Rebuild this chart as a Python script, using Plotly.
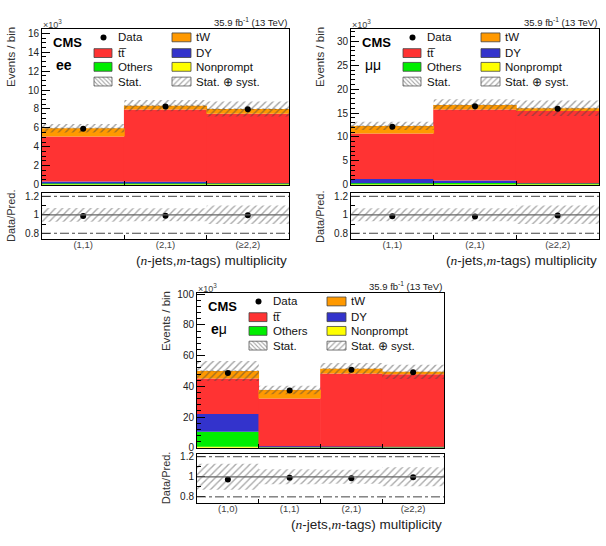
import plotly.graph_objects as go

W, H = 606, 546
FONT = "Liberation Sans, Arial, sans-serif"

# ---------------- data (thousands of events) ----------------
cats_3 = ["(1,1)", "(2,1)", "(\u22652,2)"]
cats_4 = ["(1,0)", "(1,1)", "(2,1)", "(\u22652,2)"]

ee_data      = [5.90, 8.27, 7.96]
ee_nonprompt = [0.03, 0.03, 0.03]
ee_others    = [0.10, 0.12, 0.10]
ee_dy        = [0.20, 0.15, 0.02]
ee_tt        = [4.77, 7.63, 7.35]
ee_tw        = [0.87, 0.42, 0.49]
ee_syst      = [0.075, 0.070, 0.100]
ee_stat      = [0.012, 0.010, 0.012]

mm_data      = [12.1, 16.4, 15.9]
mm_nonprompt = [0.05, 0.05, 0.03]
mm_others    = [0.25, 0.30, 0.20]
mm_dy        = [0.90, 0.50, 0.05]
mm_tt        = [9.50, 14.91, 15.12]
mm_tw        = [1.60, 0.94, 0.60]
mm_syst      = [0.070, 0.070, 0.100]
mm_stat      = [0.010, 0.008, 0.010]

em_data      = [48.7, 37.2, 50.8, 49.2]
em_nonprompt = [0.6, 0.2, 0.2, 0.2]
em_others    = [9.8, 0.4, 0.4, 0.3]
em_dy        = [11.6, 0.3, 0.2, 0.1]
em_tt        = [23.1, 31.1, 47.5, 47.3]
em_tw        = [4.9, 5.6, 3.2, 1.5]
em_syst      = [0.130, 0.075, 0.070, 0.095]
em_stat      = [0.008, 0.006, 0.005, 0.006]

proc_names  = ["Nonprompt", "Others", "DY", "tt\u0305", "tW"]
proc_colors = ["#ffff00", "#00ee00", "#3333cc", "#ff3333", "#ff9900"]

panels = [
    dict(cats=cats_3, data=ee_data, comps=[ee_nonprompt, ee_others, ee_dy, ee_tt, ee_tw],
         syst=ee_syst, stat=ee_stat, label="<b>ee</b>",
         L=42, R=289, T=25, B=184, RT=193, RB=239, ymax=16.5, dt=2, mdt=0.5),
    dict(cats=cats_3, data=mm_data, comps=[mm_nonprompt, mm_others, mm_dy, mm_tt, mm_tw],
         syst=mm_syst, stat=mm_stat, label="\u03bc\u03bc",
         L=351, R=599, T=25, B=184, RT=193, RB=239, ymax=32.7, dt=5, mdt=1),
    dict(cats=cats_4, data=em_data, comps=[em_nonprompt, em_others, em_dy, em_tt, em_tw],
         syst=em_syst, stat=em_stat, label="<b>e</b>\u03bc",
         L=197, R=444, T=294, B=452, RT=458, RB=508, ymax=101, dt=20, mdt=4),
]


def px2x(p):
    return p / W


def px2y(p):
    return 1 - p / H


fig = go.Figure()
layout = dict(
    width=W, height=H, margin=dict(l=0, r=0, t=0, b=0),
    paper_bgcolor="white", plot_bgcolor="rgba(0,0,0,0)",
    showlegend=False, barmode="overlay",
    font=dict(family=FONT, color="black"),
)
annotations = []
shapes = []

OV = 7  # overlay axis in pixel coordinates for legends
BW = 1.01


def axis_common():
    return dict(showline=True, linecolor="black", linewidth=1, mirror=True,
                showgrid=False, zeroline=False, fixedrange=True)


ratio_x_names = []
for i, p in enumerate(panels):
    n = len(p["cats"])
    centers = list(range(1, n + 1))
    edges = [c + 0.5 for c in centers[:-1]]
    ma, ra = 2 * i + 1, 2 * i + 2
    xm, ym = f"x{ma}", f"y{ma}"
    xr, yr = f"x{ra}", f"y{ra}"

    # axes
    xmain = axis_common()
    xmain.update(domain=[px2x(p["L"]), px2x(p["R"])], range=[0.5, n + 0.5], anchor=ym,
                 tickvals=centers, showticklabels=False, ticks="",
                 minor=dict(tickvals=edges, ticks="inside", ticklen=4, tickcolor="black"))
    ymain = axis_common()
    ymain.update(domain=[px2y(p["B"]), px2y(p["T"])], range=[0, p["ymax"]], anchor=xm,
                 dtick=p["dt"], tick0=0, ticks="inside", ticklen=8, tickcolor="black",
                 minor=dict(dtick=p["mdt"], tick0=0, ticks="inside", ticklen=4, tickcolor="black"),
                 tickfont=dict(size=10, color="#222"))
    xrat = axis_common()
    xrat.update(domain=[px2x(p["L"]), px2x(p["R"])], range=[0.5, n + 0.5], anchor=yr,
                tickvals=centers, ticktext=p["cats"], ticks="",
                tickfont=dict(size=9.5, color="#444"),
                minor=dict(tickvals=edges, ticks="inside", ticklen=4, tickcolor="black"))
    yrat = axis_common()
    yrat.update(domain=[px2y(p["RB"]), px2y(p["RT"])], range=[0.742, 1.231], anchor=xr,
                tickvals=[0.8, 1.0, 1.2], ticktext=["0.8", "1", "1.2"],
                ticks="inside", ticklen=8, tickcolor="black",
                minor=dict(dtick=0.1, tick0=0, ticks="inside", ticklen=4, tickcolor="black"),
                tickfont=dict(size=10, color="#222"))
    sfx = "" if ma == 1 else str(ma)
    layout[f"xaxis{sfx}"] = xmain
    layout[f"yaxis{sfx}"] = ymain
    layout[f"xaxis{ra}"] = xrat
    layout[f"yaxis{ra}"] = yrat
    ratio_x_names.append(f"xaxis{ra}")

    # stacked components
    base = [0.0] * n
    for vals, col, nm in zip(p["comps"], proc_colors, proc_names):
        fig.add_trace(go.Bar(x=centers, y=vals, base=list(base), width=BW, name=nm,
                             marker=dict(color=col, line=dict(width=0)),
                             xaxis=xm, yaxis=ym, hoverinfo="skip"))
        base = [b + v for b, v in zip(base, vals)]
    total = base

    # syst band
    fig.add_trace(go.Bar(x=centers, y=[2 * t * u for t, u in zip(total, p["syst"])],
                         base=[t * (1 - u) for t, u in zip(total, p["syst"])], width=1,
                         marker=dict(color="rgba(0,0,0,0)", line=dict(width=0),
                                     pattern=dict(shape="/", fgcolor="#444", bgcolor="rgba(0,0,0,0)",
                                                  size=5, solidity=0.28, fillmode="overlay")),
                         xaxis=xm, yaxis=ym, hoverinfo="skip"))
    # stat band
    fig.add_trace(go.Bar(x=centers, y=[2 * t * u for t, u in zip(total, p["stat"])],
                         base=[t * (1 - u) for t, u in zip(total, p["stat"])], width=1,
                         marker=dict(color="rgba(0,0,0,0)", line=dict(width=0),
                                     pattern=dict(shape="\\", fgcolor="#333", bgcolor="rgba(0,0,0,0)",
                                                  size=4, solidity=0.3, fillmode="overlay")),
                         xaxis=xm, yaxis=ym, hoverinfo="skip"))
    # data
    fig.add_trace(go.Scatter(x=centers, y=p["data"], mode="markers",
                             marker=dict(color="black", size=6),
                             xaxis=xm, yaxis=ym, hoverinfo="skip"))

    # ratio band
    fig.add_trace(go.Bar(x=centers, y=[2 * u for u in p["syst"]],
                         base=[1 - u for u in p["syst"]], width=1,
                         marker=dict(color="rgba(0,0,0,0)", line=dict(width=0),
                                     pattern=dict(shape="/", fgcolor="#555", bgcolor="rgba(0,0,0,0)",
                                                  size=5, solidity=0.28, fillmode="overlay")),
                         xaxis=xr, yaxis=yr, hoverinfo="skip"))
    fig.add_trace(go.Scatter(x=centers, y=[d / t for d, t in zip(p["data"], total)],
                             mode="markers", marker=dict(color="black", size=6),
                             xaxis=xr, yaxis=yr, hoverinfo="skip"))
    # ratio reference lines
    shapes.append(dict(type="line", xref=f"{xr} domain", yref=yr, x0=0, x1=1, y0=1, y1=1,
                       line=dict(color="#666", width=1.2), layer="above"))
    for yv in (0.8, 1.2):
        shapes.append(dict(type="line", xref=f"{xr} domain", yref=yr, x0=0, x1=1, y0=yv, y1=yv,
                           line=dict(color="#444", width=1, dash="dashdot"), layer="above"))

    L, R, T = p["L"], p["R"], p["T"]
    # texts
    annotations += [
        dict(x=px2x(L + 9), y=px2y(T + 14), xref="paper", yref="paper", text="<b>CMS</b>",
             showarrow=False, xanchor="left", yanchor="middle", font=dict(size=13)),
        dict(x=px2x(L + 12), y=px2y(T + 37), xref="paper", yref="paper", text=p["label"],
             showarrow=False, xanchor="left", yanchor="middle", font=dict(size=14)),
        dict(x=px2x(R), y=px2y(T - 7), xref="paper", yref="paper",
             text="35.9 fb<sup>-1</sup> (13 TeV)", showarrow=False, xanchor="right",
             yanchor="middle", font=dict(size=9.5, color="#222")),
        dict(x=px2x(L - 1), y=px2y(T - 5), xref="paper", yref="paper",
             text="\u00d710<sup>3</sup>", showarrow=False, xanchor="left",
             yanchor="middle", font=dict(size=9, color="#444")),
        dict(x=px2x(L - 31), y=px2y(T + 29), xref="paper", yref="paper", text="Events / bin",
             showarrow=False, textangle=-90, xanchor="center", yanchor="middle",
             font=dict(size=11.5, color="#333")),
        dict(x=px2x(L - 31), y=px2y((p["RT"] + p["RB"]) / 2), xref="paper", yref="paper",
             text="Data/Pred.", showarrow=False, textangle=-90, xanchor="center",
             yanchor="middle", font=dict(size=11, color="#333")),
        dict(x=px2x(R), y=px2y(p["RB"] + 22), xref="paper", yref="paper",
             text="(<span style=\"font-family:Liberation Serif;font-style:italic\">n</span>-jets,"
                  "<span style=\"font-family:Liberation Serif;font-style:italic\">m</span>-tags) multiplicity",
             showarrow=False, xanchor="right", yanchor="middle", font=dict(size=13.5, color="#222")),
    ]

    # legend (pixel overlay)
    rows = [T + 9, T + 25, T + 39, T + 54]
    left_items = [("Data", None), ("tt\u0305", 3), ("Others", 1), ("Stat.", "stat")]
    right_items = [("tW", 4), ("DY", 2), ("Nonprompt", 0), ("Stat. \u2295 syst.", "syst")]
    for col_items, bx0, bx1, tx in ((left_items, L + 52, L + 70, L + 74),
                                    (right_items, L + 130, L + 149, L + 152)):
        for (txt, key), ry in zip(col_items, rows):
            if key is None:
                fig.add_trace(go.Scatter(x=[(bx0 + bx1) / 2 + 0.5], y=[ry], mode="markers",
                                         marker=dict(color="black", size=6),
                                         xaxis=f"x{OV}", yaxis=f"y{OV}", hoverinfo="skip"))
            else:
                xs = [bx0, bx1, bx1, bx0, bx0]
                ys = [ry - 4.5, ry - 4.5, ry + 4.5, ry + 4.5, ry - 4.5]
                if key == "stat":
                    fp = dict(shape="\\", fgcolor="#444", bgcolor="white", size=3, solidity=0.35)
                    fig.add_trace(go.Scatter(x=xs, y=ys, mode="lines", fill="toself",
                                             fillcolor="white", fillpattern=fp,
                                             line=dict(color="#555", width=0.8),
                                             xaxis=f"x{OV}", yaxis=f"y{OV}", hoverinfo="skip"))
                elif key == "syst":
                    fp = dict(shape="/", fgcolor="#555", bgcolor="white", size=4, solidity=0.3)
                    fig.add_trace(go.Scatter(x=xs, y=ys, mode="lines", fill="toself",
                                             fillcolor="white", fillpattern=fp,
                                             line=dict(color="#555", width=0.8),
                                             xaxis=f"x{OV}", yaxis=f"y{OV}", hoverinfo="skip"))
                else:
                    fig.add_trace(go.Scatter(x=xs, y=ys, mode="lines", fill="toself",
                                             fillcolor=proc_colors[key],
                                             line=dict(color="#444", width=0.8),
                                             xaxis=f"x{OV}", yaxis=f"y{OV}", hoverinfo="skip"))
            annotations.append(dict(x=tx, y=ry, xref=f"x{OV}", yref=f"y{OV}", text=txt,
                                    showarrow=False, xanchor="left", yanchor="middle",
                                    font=dict(size=11.5, color="#111")))

layout[f"xaxis{OV}"] = dict(domain=[0, 1], range=[0, W], visible=False, fixedrange=True, anchor=f"y{OV}")
layout[f"yaxis{OV}"] = dict(domain=[0, 1], range=[H, 0], visible=False, fixedrange=True, anchor=f"x{OV}")
layout["annotations"] = annotations
layout["shapes"] = shapes
fig.update_layout(**layout)
for nm in ratio_x_names:
    try:
        fig.update_layout({nm: dict(ticklabelstandoff=-3)})
    except Exception:
        pass
fig.write_html("out.html")
